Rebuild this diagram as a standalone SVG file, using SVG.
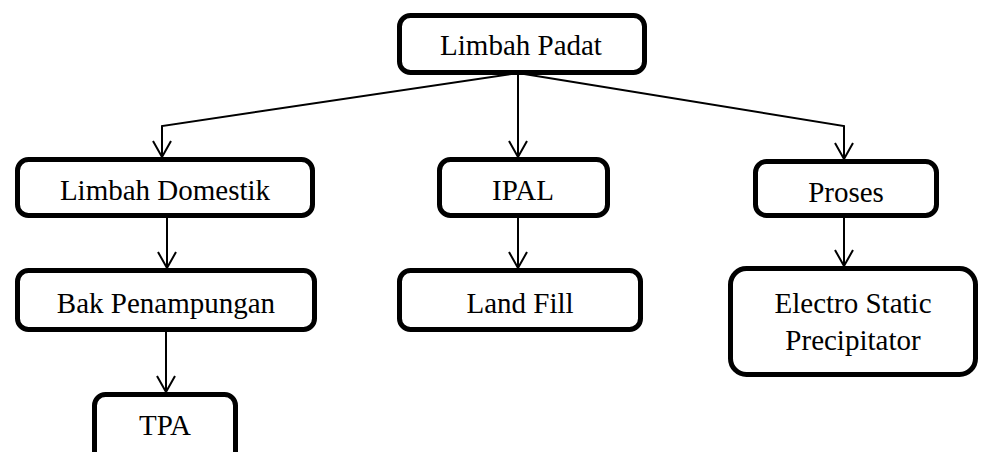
<svg xmlns="http://www.w3.org/2000/svg" width="987" height="452" viewBox="0 0 987 452">
<style>
.box{fill:#fff;stroke:#000;stroke-width:5}
.t{font-family:"Liberation Serif","Times New Roman",serif;font-size:29px;fill:#000;text-anchor:middle}
.c{fill:none;stroke:#000;stroke-width:2}
</style>
<defs>
<marker id="arr" viewBox="-18 -11 22 22" markerWidth="22" markerHeight="22" refX="0" refY="0" orient="auto" markerUnits="userSpaceOnUse">
<path d="M-16,-9 L0,0 L-16,9" fill="none" stroke="#000" stroke-width="2"/>
</marker>
</defs>
<rect width="987" height="452" fill="#fff"/>
<g id="connectors">
<polyline class="c" points="518,73 162,126 162,157" marker-end="url(#arr)"/>
<line class="c" x1="518" y1="74" x2="518" y2="157" marker-end="url(#arr)"/>
<polyline class="c" points="518,73 844,126 844,159" marker-end="url(#arr)"/>
<line class="c" x1="167" y1="218" x2="167" y2="268" marker-end="url(#arr)"/>
<line class="c" x1="518" y1="218" x2="518" y2="268" marker-end="url(#arr)"/>
<line class="c" x1="844" y1="218" x2="844" y2="266" marker-end="url(#arr)"/>
<line class="c" x1="166" y1="332" x2="166" y2="392" marker-end="url(#arr)"/>
</g>
<g id="limbah-padat">
<rect class="box" x="399.5" y="15.5" width="245" height="57" rx="11"/>
<text class="t" x="521" y="55">Limbah Padat</text>
</g>
<g id="limbah-domestik">
<rect class="box" x="17.5" y="159.5" width="295" height="56" rx="11"/>
<text class="t" x="165" y="200">Limbah Domestik</text>
</g>
<g id="ipal">
<rect class="box" x="439.5" y="159.5" width="168" height="56" rx="11"/>
<text class="t" x="523" y="200">IPAL</text>
</g>
<g id="proses">
<rect class="box" x="755.5" y="161.5" width="181" height="54" rx="11"/>
<text class="t" x="846" y="202">Proses</text>
</g>
<g id="bak-penampungan">
<rect class="box" x="17.5" y="270.5" width="297" height="59" rx="11"/>
<text class="t" x="166" y="313">Bak Penampungan</text>
</g>
<g id="land-fill">
<rect class="box" x="399.5" y="270.5" width="241" height="59" rx="11"/>
<text class="t" x="520" y="313">Land Fill</text>
</g>
<g id="esp">
<rect class="box" x="730.5" y="268.5" width="245" height="106" rx="16"/>
<text class="t" x="853" y="313">Electro Static</text>
<text class="t" x="853" y="350">Precipitator</text>
</g>
<g id="tpa">
<rect class="box" x="94.5" y="394.5" width="141" height="70" rx="11"/>
<text class="t" x="165" y="435">TPA</text>
</g>
</svg>
